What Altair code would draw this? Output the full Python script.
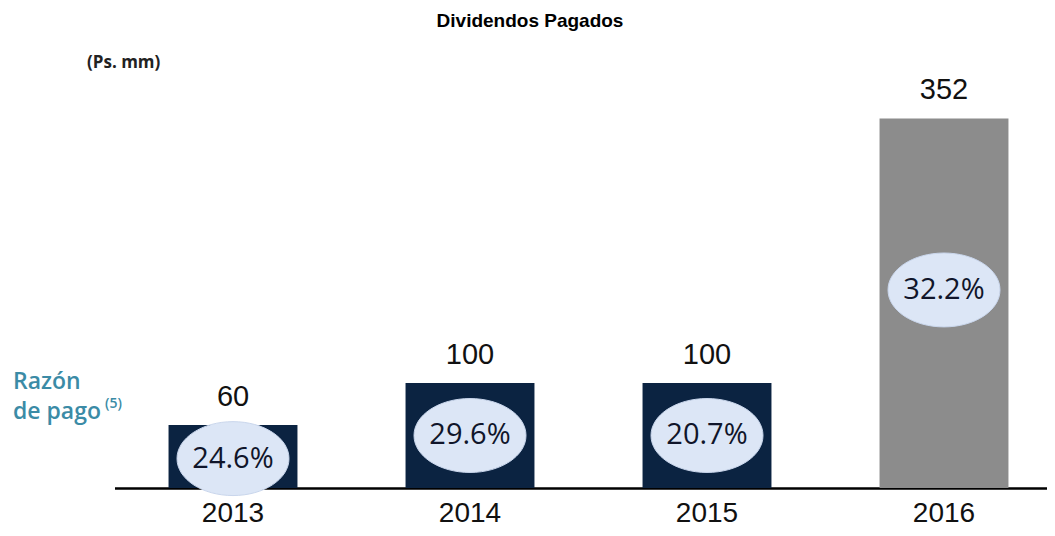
import altair as alt
import pandas as pd

# ---- data ----
years = ["2013", "2014", "2015", "2016"]
dividends = [60, 100, 100, 352]
payout_ratio = ["24.6%", "29.6%", "20.7%", "32.2%"]

title_text = "Dividendos Pagados"
unit_text = "(Ps. mm)"
ratio_label_1 = "Razón"
ratio_label_2 = "de pago"
ratio_note = "(5)"

df = pd.DataFrame({"year": years, "value": dividends, "ratio": payout_ratio})

palette = ["#0b2341", "#0b2341", "#0b2341", "#8c8c8c"]

x_enc = alt.X(
    "year:N",
    sort=years,
    scale=alt.Scale(range=[106.5, 1054.5], paddingInner=0.456, paddingOuter=0.228),
    axis=alt.Axis(
        title=None,
        domainColor="#000000",
        domainWidth=2.5,
        ticks=False,
        labels=False,
        grid=False,
    ),
)
y_scale = alt.Scale(domain=[0, 447.6], nice=False, zero=True)
x_plain = alt.X("year:N", sort=years)

base = alt.Chart(df)

bars = base.mark_bar().encode(
    x=x_enc,
    y=alt.Y("value:Q", scale=y_scale, axis=None),
    color=alt.Color("year:N", scale=alt.Scale(domain=years, range=palette), legend=None),
)

values = base.mark_text(
    baseline="alphabetic", dy=-19, font="Liberation Sans", fontSize=29, color="#111111"
).encode(
    x=x_plain,
    y=alt.Y("value:Q", scale=y_scale),
    text="value:Q",
)

year_labels = base.mark_text(
    baseline="alphabetic", font="Liberation Sans", fontSize=28, color="#111111"
).encode(
    x=x_plain,
    y=alt.value(504),
    text="year:N",
)

ellipse_path = "M -1 0 A 1 0.66 0 1 1 1 0 A 1 0.66 0 1 1 -1 0 Z"

ellipses = base.transform_calculate(pos="datum.value * 0.55 - 5").mark_point(
    shape=ellipse_path, filled=True, fill="#dce6f6", stroke="#c9d6ec", strokeWidth=1,
    opacity=1, size=12544,
).encode(
    x=x_plain,
    y=alt.Y("pos:Q", scale=y_scale),
)

ratios = base.transform_calculate(pos="datum.value * 0.55 - 5").mark_text(
    baseline="middle", font="Open Sans", fontSize=29, color="#10152a"
).encode(
    x=x_plain,
    y=alt.Y("pos:Q", scale=y_scale),
    text="ratio:N",
)


def note(text, x, y, **kw):
    return alt.Chart(alt.Data(values=[{"t": text}])).mark_text(**kw).encode(
        x=alt.value(x), y=alt.value(y), text="t:N"
    )


title = note(title_text, 522, 9, font="Liberation Sans", fontSize=19, fontWeight="bold",
             color="#000000", align="center", baseline="alphabetic")
unit = note(unit_text, 79, 50, font="Open Sans", fontSize=17, fontWeight="bold",
            color="#222222", align="left", baseline="alphabetic")
r1 = note(ratio_label_1, 5, 371, font="Open Sans", fontSize=23, fontWeight=600,
          color="#3b8ba6", align="left", baseline="alphabetic")
r2 = note(ratio_label_2, 5, 401, font="Open Sans", fontSize=23, fontWeight=600,
          color="#3b8ba6", align="left", baseline="alphabetic")
r3 = note(ratio_note, 97, 390, font="Open Sans", fontSize=14, fontWeight=600,
          color="#3b8ba6", align="left", baseline="alphabetic")

chart = alt.layer(bars, values, year_labels, ellipses, ratios, title, unit, r1, r2, r3).properties(
    width=1039,
    height=470,
    autosize=alt.AutoSizeParams(type="none"),
    padding={"left": 0, "top": 10, "right": 0, "bottom": 40},
    background="#ffffff",
).configure_view(stroke=None)

chart.save("out.html", embed_options={"renderer": "svg", "actions": False})
